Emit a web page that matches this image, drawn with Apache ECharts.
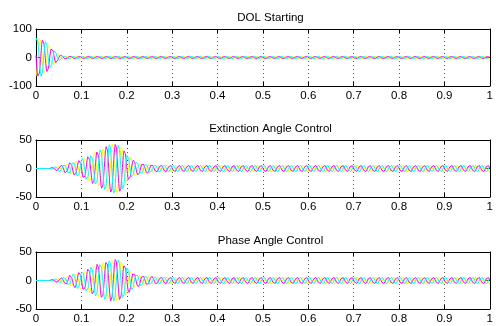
<!DOCTYPE html>
<html><head><meta charset="utf-8">
<script src="https://cdn.jsdelivr.net/npm/echarts@6/dist/echarts.min.js"></script>
<style>html,body{margin:0;padding:0;background:#fff}#c{width:496px;height:326px}</style>
</head><body><div id="c"></div>
<script>
// ---- chart text ----
const titles = ['DOL Starting', 'Extinction Angle Control', 'Phase Angle Control'];
const xTickLabels = ['0', '0.1', '0.2', '0.3', '0.4', '0.5', '0.6', '0.7', '0.8', '0.9', '1'];
const yLimits = [100, 50, 50];          // symmetric y range per subplot
const yIntervals = [100, 50, 50];

// ---- current envelopes (peak amplitude, A) ----
const dolTime      = [0,  0.01, 0.02, 0.03, 0.04, 0.05, 0.06, 0.08, 1.0];
const dolEnvelope  = [72, 70,   60,   45,   27,   12,   6,    4,    4];

const ctrlTime = [0, 0.02, 0.03, 0.04, 0.05, 0.06, 0.07, 0.08, 0.09, 0.10, 0.11, 0.12, 0.13, 0.14, 0.15, 0.16, 0.17, 0.18, 0.19, 0.20, 0.21, 0.22, 0.23, 0.24, 0.25, 0.26, 0.28, 0.30, 1.0];
const extinctionEnvelope = [0, 0, 0.5, 3, 5, 7, 10, 12, 14, 17, 21, 25, 30, 34, 38, 42, 44, 43, 39, 26, 17, 13, 11, 9, 8, 7, 6.5, 6, 6];
const phaseEnvelope      = [0, 0, 0.5, 3, 4, 6, 8, 11, 14, 17, 20, 24, 28, 31, 34, 36, 38, 38, 34, 25, 17, 12, 10, 9, 8, 7, 6.5, 6, 6];

// ---- three phases ----
const supplyHz = 50;
const phaseNames = ['Ia', 'Ib', 'Ic'];
const phaseColors = ['#ffff00', '#ff00ff', '#00ffff'];
const phaseShiftDeg = [0, -120, 120];
const startAngleDeg = -66;
const sampleStep = 0.0005;

function envAt(ts, vs, t) {
  for (let i = 1; i < ts.length; i++) {
    if (t <= ts[i]) {
      const f = (t - ts[i - 1]) / (ts[i] - ts[i - 1]);
      return vs[i - 1] + f * (vs[i] - vs[i - 1]);
    }
  }
  return vs[vs.length - 1];
}
function wave(ts, vs, k) {
  const out = [];
  const n = Math.round(1 / sampleStep);
  for (let i = 0; i <= n; i++) {
    const t = i * sampleStep;
    const ang = 2 * Math.PI * supplyHz * t + (startAngleDeg + phaseShiftDeg[k]) * Math.PI / 180;
    out.push([t, envAt(ts, vs, t) * Math.sin(ang)]);
  }
  return out;
}
const plots = [[dolTime, dolEnvelope], [ctrlTime, extinctionEnvelope], [ctrlTime, phaseEnvelope]];

const FONT = 'Liberation Sans';
const tops = [29, 140, 252];
const H = 57;
const grid = [], xAxis = [], yAxis = [], series = [], title = [];
const axLine = {show: true, onZero: false, lineStyle: {color: '#000', width: 1}};
const tick = {show: true, inside: true, length: 4, lineStyle: {color: '#000'}};
plots.forEach((p, g) => {
  grid.push({left: 36, width: 459, top: tops[g], height: H, show: false});
  title.push({text: titles[g], left: 265.5, top: tops[g] - 22, textAlign: 'center',
    textStyle: {fontFamily: FONT, fontSize: 11.5, fontWeight: 'normal', color: '#000'}});
  xAxis.push({type: 'value', gridIndex: g, min: 0, max: 1, interval: 0.1, position: 'bottom',
    axisLine: axLine, axisTick: tick,
    axisLabel: {fontFamily: FONT, fontSize: 11.5, color: '#000', margin: 4,
      formatter: v => xTickLabels[Math.round(v * 10)]},
    splitLine: {show: true, lineStyle: {color: '#555', width: 1, type: [1, 3]}}});
  xAxis.push({type: 'value', gridIndex: g, min: 0, max: 1, interval: 0.1, position: 'top',
    axisLine: axLine, axisTick: tick, axisLabel: {show: false}, splitLine: {show: false}});
  yAxis.push({type: 'value', gridIndex: g, min: -yLimits[g], max: yLimits[g], interval: yIntervals[g], position: 'left',
    axisLine: axLine, axisTick: tick,
    axisLabel: {fontFamily: FONT, fontSize: 11.5, color: '#000', margin: 4},
    splitLine: {show: false}});
  yAxis.push({type: 'value', gridIndex: g, min: -yLimits[g], max: yLimits[g], interval: yIntervals[g], position: 'right',
    axisLine: axLine, axisTick: tick, axisLabel: {show: false}, splitLine: {show: false}});
  for (let k = 0; k < 3; k++) {
    series.push({type: 'line', name: phaseNames[k], xAxisIndex: 2 * g, yAxisIndex: 2 * g,
      data: wave(p[0], p[1], k), showSymbol: false, symbol: 'none',
      lineStyle: {color: phaseColors[k], width: 1}, silent: true, z: 2 + k});
  }
});
const chart = echarts.init(document.getElementById('c'), null, {renderer: 'canvas'});
chart.setOption({animation: false, backgroundColor: '#fff', title, grid, xAxis, yAxis, series});
</script></body></html>
